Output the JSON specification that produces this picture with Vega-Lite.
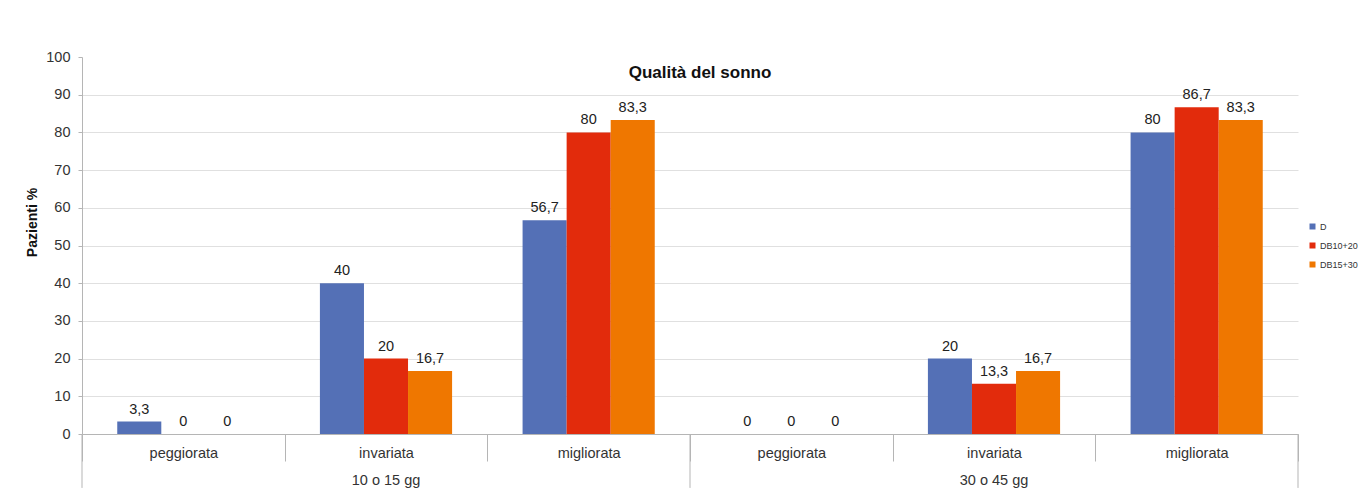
{
  "$schema": "https://vega.github.io/schema/vega-lite/v6.json",
  "width": 1216,
  "height": 377,
  "autosize": {"type": "none"},
  "padding": {"left": 82, "top": 57, "right": 60, "bottom": 61},
  "background": "white",
  "config": {
    "view": {"stroke": null},
    "font": "Liberation Sans",
    "locale": {"number": {"decimal": ",", "thousands": ".", "grouping": [3], "currency": ["€", ""]}}
  },
  "title": {"text": "Qualità del sonno", "fontSize": 17, "fontWeight": "bold", "color": "#111", "anchor": "middle", "baseline": "middle", "dx": 10, "dy": 45},
  "datasets": {
    "qualita": [
      {"periodo": "10 o 15 gg", "esito": "peggiorata", "serie": "D", "valore": 3.3},
      {"periodo": "10 o 15 gg", "esito": "peggiorata", "serie": "DB10+20", "valore": 0},
      {"periodo": "10 o 15 gg", "esito": "peggiorata", "serie": "DB15+30", "valore": 0},
      {"periodo": "10 o 15 gg", "esito": "invariata", "serie": "D", "valore": 40},
      {"periodo": "10 o 15 gg", "esito": "invariata", "serie": "DB10+20", "valore": 20},
      {"periodo": "10 o 15 gg", "esito": "invariata", "serie": "DB15+30", "valore": 16.7},
      {"periodo": "10 o 15 gg", "esito": "migliorata", "serie": "D", "valore": 56.7},
      {"periodo": "10 o 15 gg", "esito": "migliorata", "serie": "DB10+20", "valore": 80},
      {"periodo": "10 o 15 gg", "esito": "migliorata", "serie": "DB15+30", "valore": 83.3},
      {"periodo": "30 o 45 gg", "esito": "peggiorata", "serie": "D", "valore": 0},
      {"periodo": "30 o 45 gg", "esito": "peggiorata", "serie": "DB10+20", "valore": 0},
      {"periodo": "30 o 45 gg", "esito": "peggiorata", "serie": "DB15+30", "valore": 0},
      {"periodo": "30 o 45 gg", "esito": "invariata", "serie": "D", "valore": 20},
      {"periodo": "30 o 45 gg", "esito": "invariata", "serie": "DB10+20", "valore": 13.3},
      {"periodo": "30 o 45 gg", "esito": "invariata", "serie": "DB15+30", "valore": 16.7},
      {"periodo": "30 o 45 gg", "esito": "migliorata", "serie": "D", "valore": 80},
      {"periodo": "30 o 45 gg", "esito": "migliorata", "serie": "DB10+20", "valore": 86.7},
      {"periodo": "30 o 45 gg", "esito": "migliorata", "serie": "DB15+30", "valore": 83.3}
    ],
    "periodi": [
      {"periodo": "10 o 15 gg", "cat": "10 o 15 gg|invariata", "quota": -12.4},
      {"periodo": "30 o 45 gg", "cat": "30 o 45 gg|invariata", "quota": -12.4}
    ],
    "bordi_inizio": [
      {"cat": "10 o 15 gg|peggiorata", "da": 0, "a": -14.3},
      {"cat": "30 o 45 gg|peggiorata", "da": 0, "a": -14.3}
    ],
    "bordi_fine": [
      {"cat": "30 o 45 gg|migliorata", "da": 0, "a": -14.3}
    ]
  },
  "encoding": {
    "x": {
      "field": "cat", "type": "nominal",
      "scale": {
        "domain": ["10 o 15 gg|peggiorata", "10 o 15 gg|invariata", "10 o 15 gg|migliorata", "30 o 45 gg|peggiorata", "30 o 45 gg|invariata", "30 o 45 gg|migliorata"],
        "paddingInner": 0, "paddingOuter": 0
      },
      "axis": {
        "title": null,
        "labelExpr": "split(datum.label, '|')[1]",
        "labelAngle": 0,
        "labelFontSize": 14.5,
        "labelColor": "#333",
        "labelBaseline": "middle",
        "labelPadding": -8,
        "labelOverlap": false,
        "tickBand": "extent",
        "tickSize": 27,
        "tickColor": "#b5b5b5",
        "domainColor": "#b5b5b5",
        "grid": false
      }
    },
    "y": {
      "field": "valore", "type": "quantitative",
      "scale": {"domain": [0, 100], "nice": false, "zero": false},
      "axis": {
        "title": "Pazienti %",
        "titleFontSize": 14,
        "titleFontWeight": "bold",
        "titleColor": "#111",
        "titleX": -50,
        "titleY": 165,
        "titleBaseline": "middle",
        "values": [0, 10, 20, 30, 40, 50, 60, 70, 80, 90, 100],
        "labelOverlap": false,
        "labelFontSize": 14.5,
        "labelColor": "#333",
        "labelPadding": 8,
        "tickSize": 4,
        "tickColor": "#b5b5b5",
        "domainColor": "#b5b5b5",
        "grid": true,
        "gridColor": "#e0e0e0",
        "gridOpacity": {"condition": {"test": "datum.value === 100 || datum.value === 0", "value": 0}, "value": 1}
      }
    }
  },
  "layer": [
    {
      "data": {"name": "qualita"},
      "transform": [{"calculate": "datum.periodo + '|' + datum.esito", "as": "cat"}],
      "encoding": {
        "xOffset": {
          "field": "serie", "type": "nominal",
          "scale": {"domain": ["D", "DB10+20", "DB15+30"], "paddingInner": 0, "paddingOuter": 0.8}
        }
      },
      "layer": [
        {
          "mark": {"type": "bar"},
          "encoding": {
            "color": {
              "field": "serie", "type": "nominal",
              "scale": {"domain": ["D", "DB10+20", "DB15+30"], "range": ["#5470b6", "#e22b0c", "#ef7700"]},
              "legend": {
                "title": null,
                "orient": "none",
                "legendX": 1226,
                "legendY": 165,
                "symbolType": "square",
                "symbolSize": 36,
                "labelFontSize": 9,
                "labelColor": "#333",
                "labelOffset": 3,
                "rowPadding": 9
              }
            }
          }
        },
        {
          "mark": {"type": "text", "baseline": "alphabetic", "dy": -8, "fontSize": 14.5, "color": "#222"},
          "encoding": {
            "text": {"field": "valore", "type": "quantitative", "format": "~f"}
          }
        }
      ]
    },
    {
      "data": {"name": "bordi_inizio"},
      "mark": {"type": "rule", "color": "#b5b5b5", "strokeWidth": 1},
      "encoding": {
        "x": {"field": "cat", "type": "nominal", "bandPosition": 0},
        "y": {"field": "da", "type": "quantitative"},
        "y2": {"field": "a"}
      }
    },
    {
      "data": {"name": "bordi_fine"},
      "mark": {"type": "rule", "color": "#b5b5b5", "strokeWidth": 1},
      "encoding": {
        "x": {"field": "cat", "type": "nominal", "bandPosition": 1},
        "y": {"field": "da", "type": "quantitative"},
        "y2": {"field": "a"}
      }
    },
    {
      "data": {"name": "periodi"},
      "mark": {"type": "text", "baseline": "middle", "fontSize": 14.5, "color": "#333"},
      "encoding": {
        "y": {"field": "quota", "type": "quantitative"},
        "text": {"field": "periodo"}
      }
    }
  ]
}
